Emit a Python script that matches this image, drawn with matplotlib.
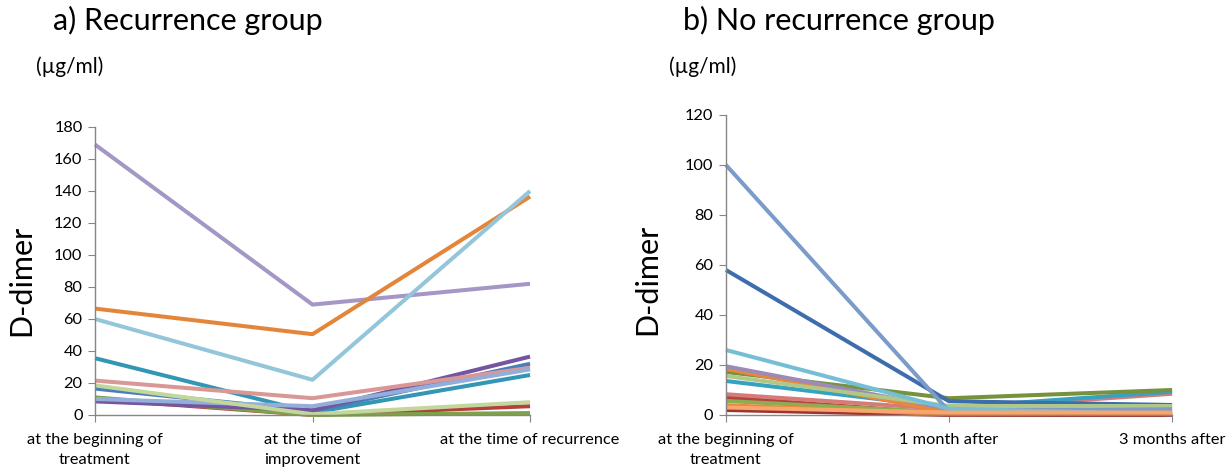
import matplotlib
matplotlib.use("Agg")
import matplotlib.pyplot as plt

plt.rcParams['font.family'] = ['Lato', 'DejaVu Sans']

# a) Recurrence group
rec_categories = ["at the beginning of\ntreatment", "at the time of\nimprovement",
                  "at the time of recurrence"]
rec_series = [
    [169, 69, 82],
    [66.5, 50.5, 136.5],
    [60, 22, 140],
    [35.5, 1.5, 25],
    [16.5, 2.5, 32],
    [10, 0, 5.5],
    [11, 0, 1.2],
    [8.5, 3, 36.5],
    [21.5, 10.5, 29.5],
    [10, 5.5, 28.5],
    [18.5, 0.5, 8],
]
rec_colors = ["#A497C5", "#E4863A", "#93C6DB", "#3396B3", "#4A7EBB", "#B3403D",
              "#7EA346", "#7455A0", "#D99795", "#94AEDA", "#C3D69B"]
rec_yticks = [0, 20, 40, 60, 80, 100, 120, 140, 160, 180]

# b) No recurrence group
norec_categories = ["at the beginning of\ntreatment", "1 month after", "3 months after"]
norec_series = [
    [2, 0, 0],
    [7, 0.5, 0.5],
    [5.6, 1, 1],
    [8.3, 2.3, 8.5],
    [13.6, 3, 9.3],
    [17.2, 6.7, 10],
    [58, 5.5, 4],
    [18.5, 1, 0.5],
    [19.5, 2.5, 2.5],
    [15.6, 3.6, 3.6],
    [100, 1.5, 2.3],
    [26, 2.5, 0.3],
    [3.9, 0.3, 0.5],
    [3, 1, 1],
]
norec_colors = ["#9B3532", "#B5423F", "#8CAE50", "#D67B78", "#36A2C0", "#76923C",
                "#3E6DAD", "#E8883C", "#9C8AB9", "#AFC88A", "#7B9BCB", "#74BFD6",
                "#E8883C", "#F8A56E"]
norec_yticks = [0, 20, 40, 60, 80, 100, 120]

AXIS_GREY = "#868686"


def draw_panel(ax, categories, series, colors, yticks):
    x = list(range(len(categories)))
    for values, color in zip(series, colors):
        ax.plot(x, values, color=color, linewidth=2.9, solid_capstyle='butt',
                clip_on=False)
    ax.set_xlim(0, len(categories) - 1)
    ax.set_ylim(yticks[0], yticks[-1])
    ax.set_xticks(x)
    ax.set_xticklabels(categories, fontsize=11.8, linespacing=1.5)
    ax.set_yticks(yticks)
    ax.tick_params(axis='y', labelsize=11.8, length=5, color=AXIS_GREY, pad=4)
    ax.tick_params(axis='x', length=5, color=AXIS_GREY, pad=8)
    for side in ['top', 'right']:
        ax.spines[side].set_visible(False)
    for side in ['left', 'bottom']:
        ax.spines[side].set_color(AXIS_GREY)
        ax.spines[side].set_linewidth(1.0)


fig = plt.figure(figsize=(12.29, 4.71), dpi=100)

ax1 = fig.add_axes([0.0773, 0.1189, 0.354, 0.6115])
draw_panel(ax1, rec_categories, rec_series, rec_colors, rec_yticks)

ax2 = fig.add_axes([0.5907, 0.1189, 0.363, 0.637])
draw_panel(ax2, norec_categories, norec_series, norec_colors, norec_yticks)

fig.text(53 / 1229, 1 - 30 / 471, "a) Recurrence group", fontsize=22, ha='left',
         va='baseline')
fig.text(683 / 1229, 1 - 30 / 471, "b) No recurrence group", fontsize=22, ha='left',
         va='baseline')
fig.text(36 / 1229, 1 - 73 / 471, "(µg/ml)", fontsize=15, ha='left', va='baseline')
fig.text(669 / 1229, 1 - 73 / 471, "(µg/ml)", fontsize=15, ha='left', va='baseline')
fig.text(21 / 1229, 1 - 280 / 471, "D-dimer", fontsize=22, rotation=90,
         ha='center', va='center')
fig.text(647 / 1229, 1 - 279 / 471, "D-dimer", fontsize=22, rotation=90,
         ha='center', va='center')

fig.savefig("out.png", dpi=100)
